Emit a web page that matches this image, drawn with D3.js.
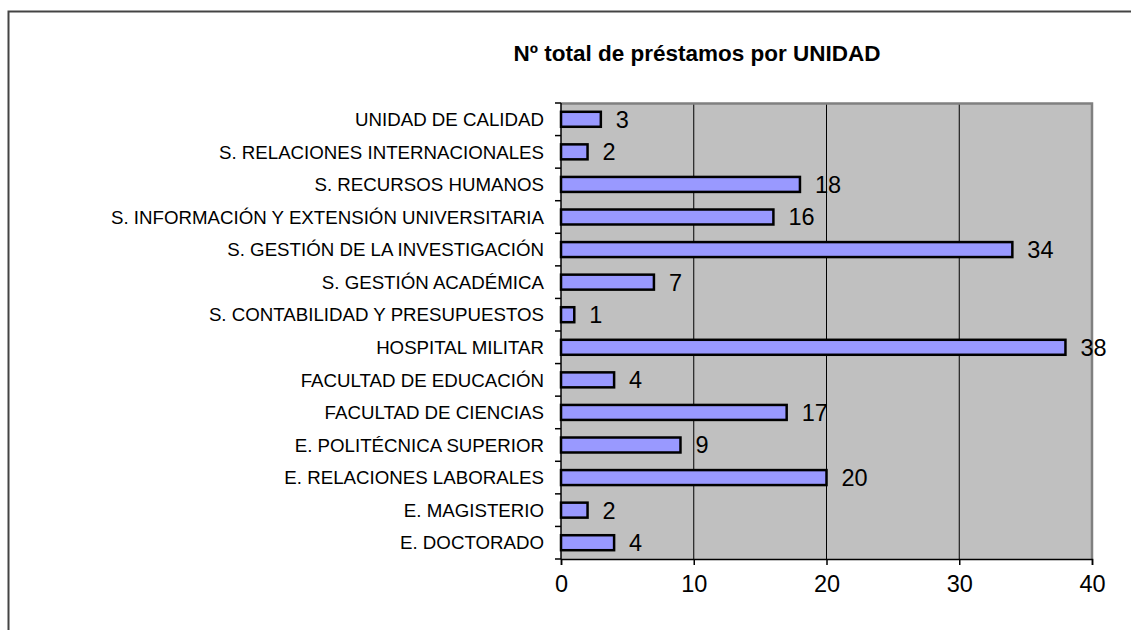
<!DOCTYPE html>
<html lang="es">
  <head>
    <meta charset="UTF-8" />
    <title>Nº total de préstamos por UNIDAD</title>
    <script src="https://d3js.org/d3.v7.min.js"></script>
    <style>
      body { margin: 0; background: #fff; }
      text { font-family: "Liberation Sans", Arial, sans-serif; fill: #000; }
      .chart-title { font-size: 22.5px; font-weight: bold; text-anchor: middle; }
    </style>
  </head>
  <body>
    <svg id="visualization" width="1131" height="630"></svg>

    <script>
      // Data (top to bottom as drawn)
      const unidades = [
        "UNIDAD DE CALIDAD",
        "S. RELACIONES INTERNACIONALES",
        "S. RECURSOS HUMANOS",
        "S. INFORMACIÓN Y EXTENSIÓN UNIVERSITARIA",
        "S. GESTIÓN DE LA INVESTIGACIÓN",
        "S. GESTIÓN ACADÉMICA",
        "S. CONTABILIDAD Y PRESUPUESTOS",
        "HOSPITAL MILITAR",
        "FACULTAD DE EDUCACIÓN",
        "FACULTAD DE CIENCIAS",
        "E. POLITÉCNICA SUPERIOR",
        "E. RELACIONES LABORALES",
        "E. MAGISTERIO",
        "E. DOCTORADO"
      ];
      const prestamos = [3, 2, 18, 16, 34, 7, 1, 38, 4, 17, 9, 20, 2, 4];
      const xTicks = [0, 10, 20, 30, 40];

      const data = unidades.map((u, i) => ({ unidad: u, value: prestamos[i] }));

      const svg = d3.select("#visualization");

      // outer chart frame (only top and left edges visible)
      svg.append("rect")
        .attr("x", 8.5).attr("y", 11.5)
        .attr("width", 1200).attr("height", 700)
        .attr("fill", "none")
        .attr("stroke", "#444")
        .attr("stroke-width", 2);

      const plot = { left: 561, top: 103, right: 1092, bottom: 559 };
      const width = plot.right - plot.left;
      const height = plot.bottom - plot.top;

      const g = svg.append("g").attr("transform", `translate(${plot.left},${plot.top})`);

      const x = d3.scaleLinear().domain([0, 40]).range([0, width]);
      const y = d3.scaleBand().domain(unidades).range([0, height]).paddingInner(0.54).paddingOuter(0.27);

      // plot background
      g.append("rect")
        .attr("width", width).attr("height", height)
        .attr("fill", "#C0C0C0");

      // vertical gridlines
      g.selectAll(".grid")
        .data(xTicks.slice(1, -1))
        .enter()
        .append("line")
        .attr("x1", (d) => x(d)).attr("x2", (d) => x(d))
        .attr("y1", 0).attr("y2", height)
        .attr("stroke", "#000").attr("stroke-width", 1);

      // gray plot border top and right
      g.append("path")
        .attr("d", `M0,0.5 H${width} V${height}`)
        .attr("fill", "none")
        .attr("stroke", "#808080")
        .attr("stroke-width", 2.5);

      // bars
      g.selectAll(".bar")
        .data(data)
        .enter()
        .append("rect")
        .attr("class", "bar")
        .attr("x", 0)
        .attr("y", (d) => y(d.unidad))
        .attr("width", (d) => x(d.value))
        .attr("height", y.bandwidth())
        .attr("fill", "#9999FF")
        .attr("stroke", "#000")
        .attr("stroke-width", 2.5);

      // value labels
      g.selectAll(".value")
        .data(data)
        .enter()
        .append("text")
        .attr("x", (d) => x(d.value) + 15)
        .attr("y", (d) => y(d.unidad) + y.bandwidth() / 2)
        .attr("dy", "0.36em")
        .style("font-size", "23.5px")
        .text((d) => d.value);

      // y axis: ticks at band boundaries
      const step = y.step();
      const bounds = d3.range(unidades.length + 1).map((i) => i * step);
      g.selectAll(".ytick")
        .data(bounds)
        .enter()
        .append("line")
        .attr("x1", -6).attr("x2", 0)
        .attr("y1", (d) => d).attr("y2", (d) => d)
        .attr("stroke", "#000").attr("stroke-width", 1.5);
      g.append("line")
        .attr("x1", 0).attr("x2", 0).attr("y1", 0).attr("y2", height)
        .attr("stroke", "#000").attr("stroke-width", 1.5);

      g.selectAll(".ylabel")
        .data(unidades)
        .enter()
        .append("text")
        .attr("x", -17)
        .attr("y", (d) => y(d) + y.bandwidth() / 2)
        .attr("dy", "0.36em")
        .attr("text-anchor", "end")
        .style("font-size", "18.7px")
        .text((d) => d);

      // x axis
      const xAxis = g.append("g")
        .attr("transform", `translate(0,${height})`)
        .call(d3.axisBottom(x).tickValues(xTicks).tickSize(6).tickPadding(10).tickFormat(d3.format("d")));
      xAxis.select(".domain").attr("stroke", "#000").attr("stroke-width", 1.5);
      xAxis.selectAll(".tick line").attr("stroke", "#000").attr("stroke-width", 1.5);
      xAxis.selectAll(".tick text")
        .style("font-size", "23.5px")
        .style("font-family", "'Liberation Sans', Arial, sans-serif")
        .attr("fill", "#000");

      // title
      svg.append("text")
        .attr("class", "chart-title")
        .attr("x", 697)
        .attr("y", 61)
        .text("Nº total de préstamos por UNIDAD");
    </script>
  </body>
</html>
